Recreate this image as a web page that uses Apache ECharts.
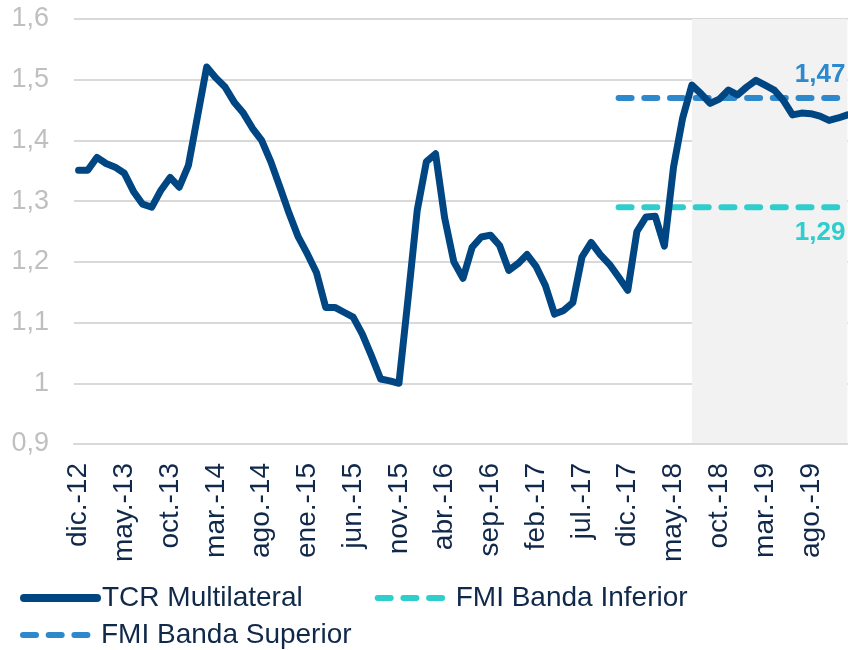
<!DOCTYPE html>
<html lang="es">
<head>
  <meta charset="UTF-8">
  <title>TCR Multilateral</title>
  <script src="https://cdn.jsdelivr.net/npm/echarts@6/dist/echarts.min.js"></script>
  <style>
    * { padding: 0; margin: 0; }
    body { background: #fff; }
    #main { width: 848px; height: 650px; }
  </style>
</head>
<body>
<div id="main"></div>
<script>
  // meses dic.-12 .. dic.-19
  var monthNames = ['ene', 'feb', 'mar', 'abr', 'may', 'jun', 'jul', 'ago', 'sep', 'oct', 'nov', 'dic'];
  var firstYear = 12, firstMonth = 11, monthCount = 85;

  var tcrValues = [
    1.351, 1.351, 1.372, 1.362, 1.356, 1.346, 1.316, 1.295, 1.290, 1.318, 1.339, 1.323,
    1.359, 1.440, 1.521, 1.503, 1.488, 1.463, 1.445, 1.420, 1.400, 1.365, 1.323, 1.280,
    1.241, 1.213, 1.182, 1.125, 1.125, 1.117, 1.109, 1.081, 1.045, 1.007, 1.004, 1.000,
    1.140, 1.285, 1.365, 1.378, 1.272, 1.200, 1.173, 1.224, 1.241, 1.244, 1.227, 1.186,
    1.197, 1.212, 1.192, 1.161, 1.114, 1.120, 1.133, 1.208, 1.232, 1.212, 1.196, 1.175,
    1.153, 1.250, 1.274, 1.275, 1.226, 1.356, 1.437, 1.491, 1.477, 1.461, 1.468, 1.483,
    1.475, 1.488, 1.499, 1.491, 1.483, 1.466, 1.442, 1.445, 1.444, 1.440, 1.433, 1.437,
    1.442
  ];

  var bandStart = 'nov.-17';
  var bandEnd = 'dic.-19';
  var bandUpper = 1.47;
  var bandLower = 1.29;
  var shadeStart = 'jul.-18';

  var yTicks = {min: 0.9, max: 1.6, interval: 0.1};

  var categories = [];
  for (var i = 0; i < monthCount; i++) {
    var m = (firstMonth + i) % 12;
    var y = firstYear + Math.floor((firstMonth + i) / 12);
    categories.push(monthNames[m] + '.-' + y);
  }

  var font = '"Liberation Sans", Arial, sans-serif';
  var navy = '#004682';
  var blue = '#2E88CC';
  var teal = '#2FCDCC';
  var textDark = '#10284A';

  var myChart = echarts.init(document.getElementById('main'));

  function bandLabel(up, color) {
    return {
      show: true,
      align: 'right',
      verticalAlign: up ? 'bottom' : 'top',
      offset: [-10, up ? -10 : 13],
      color: color,
      fontFamily: font,
      fontSize: 26,
      fontWeight: 'bold',
      formatter: function (p) {
        return String(p.value[1]).replace('.', ',');
      }
    };
  }

  var legendText = {fontSize: 28, color: textDark, fontFamily: font};

  myChart.setOption({
    animation: false,
    textStyle: {fontFamily: font},
    grid: {
      left: 74,
      width: 778,
      top: 19,
      bottom: 206,
      outerBoundsMode: 'none'
    },
    legend: [
      {
        data: [{name: 'TCR Multilateral', lineStyle: {width: 8}}, 'FMI Banda Inferior'],
        left: 20,
        top: 584,
        padding: 0,
        itemWidth: 73,
        itemHeight: 14,
        itemGap: 72,
        itemStyle: {opacity: 0},
        lineStyle: {width: 6},
        textStyle: legendText
      },
      {
        data: ['FMI Banda Superior'],
        left: 20,
        top: 621,
        padding: 0,
        itemWidth: 73,
        itemHeight: 14,
        itemStyle: {opacity: 0},
        lineStyle: {width: 6},
        textStyle: legendText
      }
    ],
    xAxis: {
      type: 'category',
      data: categories,
      boundaryGap: true,
      z: 5,
      axisLine: {lineStyle: {color: '#D9D9D9', width: 2}},
      axisTick: {show: false},
      splitLine: {show: false},
      axisLabel: {
        interval: 4,
        rotate: 90,
        margin: 19,
        fontSize: 28,
        color: textDark,
        fontFamily: font
      }
    },
    yAxis: {
      type: 'value',
      min: yTicks.min,
      max: yTicks.max,
      interval: yTicks.interval,
      axisLine: {show: false},
      axisTick: {show: false},
      splitLine: {lineStyle: {color: '#D9D9D9', width: 2}},
      axisLabel: {
        margin: 25,
        fontSize: 27,
        color: '#BFBFBF',
        fontFamily: font,
        formatter: function (v) {
          return String(+v.toFixed(1)).replace('.', ',');
        }
      }
    },
    series: [
      {
        name: 'shade',
        type: 'line',
        data: [],
        z: 1,
        silent: true,
        markArea: {
          silent: true,
          itemStyle: {color: '#F2F2F2'},
          data: [[
            {xAxis: shadeStart, yAxis: yTicks.min},
            {xAxis: bandEnd, yAxis: yTicks.max}
          ]]
        }
      },
      {
        name: 'FMI Banda Superior',
        type: 'line',
        z: 3,
        symbol: 'none',
        color: blue,
        lineStyle: {width: 6, type: [13, 12.7], cap: 'round', color: blue},
        endLabel: bandLabel(true, blue),
        data: [[bandStart, bandUpper], [bandEnd, bandUpper]]
      },
      {
        name: 'FMI Banda Inferior',
        type: 'line',
        z: 3,
        symbol: 'none',
        color: teal,
        lineStyle: {width: 6, type: [13, 12.7], cap: 'round', color: teal},
        endLabel: bandLabel(false, teal),
        data: [[bandStart, bandLower], [bandEnd, bandLower]]
      },
      {
        name: 'TCR Multilateral',
        type: 'line',
        z: 4,
        symbol: 'none',
        color: navy,
        lineStyle: {width: 7, color: navy, cap: 'round', join: 'round'},
        data: tcrValues
      }
    ]
  });
</script>
</body>
</html>
